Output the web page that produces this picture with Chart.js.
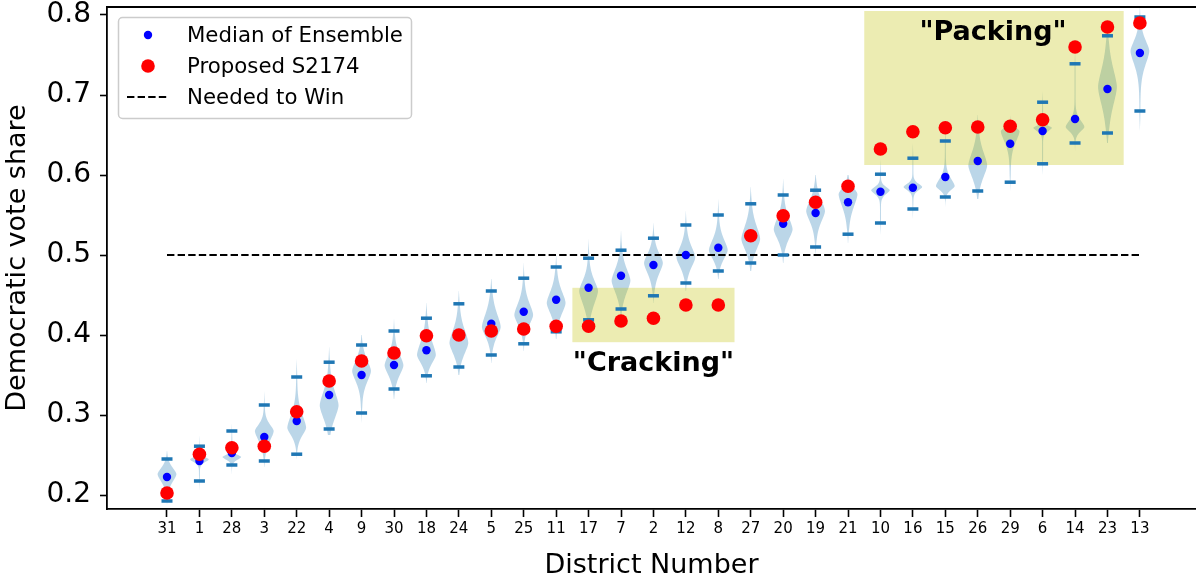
<!DOCTYPE html>
<html>
<head>
<meta charset="utf-8">
<script src="https://cdn.jsdelivr.net/npm/chart.js@4/dist/chart.umd.min.js"></script>
<style>
  body { margin: 0; background: #fff; }
  canvas { display: block; }
</style>
</head>
<body>
<canvas id="chart" width="1196" height="582"></canvas>
<script>
// Districts, sorted by ensemble median
const districts = ['31', '1', '28', '3', '22', '4', '9', '30', '18', '24', '5', '25', '11', '17', '7', '2',
    '12', '8', '27', '20', '19', '21', '10', '16', '15', '26', '29', '6', '14', '23', '13'];

const medians = [0.2225, 0.2425, 0.2525, 0.2725, 0.2925, 0.325, 0.35, 0.3625, 0.381, 0.401, 0.414, 0.429,
    0.444, 0.459, 0.474, 0.4875, 0.5, 0.509, 0.522, 0.539, 0.5525, 0.566, 0.579, 0.584, 0.5975, 0.6175,
    0.639, 0.655, 0.67, 0.7075, 0.7525];

const proposed = [0.2025, 0.251, 0.259, 0.261, 0.304, 0.3425, 0.3675, 0.3775, 0.399, 0.4, 0.405, 0.4075,
    0.411, 0.411, 0.4175, 0.421, 0.4375, 0.4375, 0.524, 0.549, 0.566, 0.586, 0.6325, 0.654, 0.659, 0.66,
    0.661, 0.669, 0.76, 0.785, 0.79];

// upper / lower bars of the ensemble
const ensembleMax = [0.245, 0.261, 0.28, 0.3125, 0.3475, 0.366, 0.3875, 0.405, 0.421, 0.439, 0.455, 0.471,
    0.485, 0.496, 0.506, 0.521, 0.5375, 0.55, 0.564, 0.575, 0.581, 0.584, 0.601, 0.621, 0.6425, 0.66,
    0.66, 0.691, 0.739, 0.774, 0.7975];
const ensembleMin = [0.1925, 0.2175, 0.2375, 0.2425, 0.251, 0.2825, 0.3025, 0.3325, 0.349, 0.36, 0.375,
    0.389, 0.404, 0.419, 0.4325, 0.449, 0.465, 0.48, 0.49, 0.5, 0.51, 0.526, 0.54, 0.5575, 0.5725, 0.58,
    0.591, 0.614, 0.64, 0.6525, 0.68];

// violin shape: widest value, spread below / above it, and tail ends
const violinPeak = [0.226, 0.2445, 0.2475, 0.28, 0.284, 0.312, 0.355, 0.362, 0.375, 0.39, 0.41, 0.425,
    0.44, 0.455, 0.468, 0.49, 0.497, 0.506, 0.52, 0.532, 0.555, 0.576, 0.581, 0.585, 0.586, 0.612, 0.655,
    0.659, 0.66, 0.71, 0.755];
const violinSpreadLow = [0.014, 0.005, 0.005, 0.018, 0.014, 0.024, 0.02, 0.018, 0.015, 0.02, 0.018, 0.018,
    0.02, 0.024, 0.022, 0.02, 0.018, 0.016, 0.02, 0.018, 0.02, 0.024, 0.007, 0.006, 0.007, 0.022, 0.02,
    0.006, 0.008, 0.035, 0.025];
const violinSpreadHigh = [0.012, 0.004, 0.004, 0.012, 0.024, 0.026, 0.02, 0.02, 0.025, 0.025, 0.025, 0.022,
    0.022, 0.02, 0.022, 0.018, 0.02, 0.02, 0.025, 0.022, 0.02, 0.012, 0.006, 0.006, 0.014, 0.025, 0.006,
    0.004, 0.012, 0.035, 0.02];
const violinLow = [0.188, 0.205, 0.225, 0.235, 0.245, 0.275, 0.29, 0.32, 0.34, 0.35, 0.365, 0.38, 0.395,
    0.41, 0.425, 0.44, 0.455, 0.47, 0.48, 0.49, 0.5, 0.515, 0.525, 0.545, 0.56, 0.57, 0.58, 0.6, 0.63,
    0.64, 0.655];
const violinHigh = [0.255, 0.275, 0.29, 0.33, 0.37, 0.385, 0.4, 0.42, 0.44, 0.455, 0.47, 0.49, 0.5, 0.52,
    0.53, 0.54, 0.555, 0.57, 0.585, 0.595, 0.6, 0.6, 0.62, 0.64, 0.66, 0.675, 0.675, 0.705, 0.755, 0.785, 0.81];

const neededToWin = 0.5;
const yTicks = [0.2, 0.3, 0.4, 0.5, 0.6, 0.7, 0.8];

// highlighted regions
const boxLabels = ['"Cracking"', '"Packing"'];
const boxFrom = [12.5, 21.5];
const boxTo = [17.5, 29.5];
const boxBottom = [0.391, 0.6125];
const boxTop = [0.459, 0.805];
const labelAtX = [15, 25.47];
const labelAtY = [0.364, 0.7775];

const FONT = "'DejaVu Sans', sans-serif";
const idx = districts.map((d, i) => i);

// Violins + highlight boxes under the points
const violinPlugin = {
    id: 'violins',
    beforeDatasetsDraw(chart) {
        const ctx = chart.ctx;
        const xs = chart.scales.x, ys = chart.scales.y;
        const unit = xs.getPixelForValue(1) - xs.getPixelForValue(0);
        const maxHalf = 0.29 * unit;
        ctx.save();
        ctx.fillStyle = 'rgba(31,119,180,0.3)';
        idx.forEach(i => {
            const cx = xs.getPixelForValue(i);
            const lo = violinLow[i], hi = violinHigh[i], pk = violinPeak[i];
            const n = 80;
            const pts = [];
            for (let k = 0; k <= n; k++) {
                const v = lo + (hi - lo) * k / n;
                const s = v < pk ? violinSpreadLow[i] : violinSpreadHigh[i];
                const g = Math.exp(-Math.pow(Math.abs(v - pk) / s, 1.6));
                const t = Math.min(1, Math.min(v - lo, hi - v) / 0.02);
                const w = maxHalf * (g * 0.95 + 0.05 * t);
                pts.push([ys.getPixelForValue(v), w]);
            }
            ctx.beginPath();
            pts.forEach(([y, w], k) => k ? ctx.lineTo(cx - w, y) : ctx.moveTo(cx - w, y));
            for (let k = pts.length - 1; k >= 0; k--) ctx.lineTo(cx + pts[k][1], pts[k][0]);
            ctx.closePath();
            ctx.fill();
        });

        ctx.fillStyle = 'rgba(191,191,0,0.3)';
        boxLabels.forEach((lab, b) => {
            const x0 = xs.getPixelForValue(boxFrom[b]), x1 = xs.getPixelForValue(boxTo[b]);
            const y0 = ys.getPixelForValue(boxTop[b]), y1 = ys.getPixelForValue(boxBottom[b]);
            ctx.fillRect(x0, y0, x1 - x0, y1 - y0);
        });
        ctx.restore();
    },
    afterDraw(chart) {
        const ctx = chart.ctx;
        const xs = chart.scales.x, ys = chart.scales.y;
        const area = chart.chartArea;
        ctx.save();
        // top spine
        ctx.strokeStyle = '#000';
        ctx.lineWidth = 1.8;
        ctx.beginPath();
        ctx.moveTo(area.left, area.top);
        ctx.lineTo(area.right, area.top);
        ctx.stroke();

        // box labels
        ctx.fillStyle = '#000';
        ctx.font = 'bold 27px ' + FONT;
        ctx.textAlign = 'center';
        ctx.textBaseline = 'middle';
        boxLabels.forEach((lab, b) => {
            ctx.fillText(lab, xs.getPixelForValue(labelAtX[b]), ys.getPixelForValue(labelAtY[b]));
        });

        // legend
        const lx = 118.5, ly = 17.5, lw = 293, lh = 101;
        ctx.fillStyle = 'rgba(255,255,255,0.8)';
        ctx.strokeStyle = '#cccccc';
        ctx.lineWidth = 1.5;
        ctx.beginPath();
        ctx.roundRect(lx, ly, lw, lh, 4);
        ctx.fill();
        ctx.stroke();

        ctx.font = '21.3px ' + FONT;
        ctx.textAlign = 'left';
        const rows = [35, 66, 97];
        chart.data.datasets.filter(d => d.inLegend).forEach((d, r) => {
            const y = rows[r];
            if (d.showLine) {
                ctx.strokeStyle = d.borderColor;
                ctx.lineWidth = d.borderWidth;
                ctx.setLineDash(d.borderDash);
                ctx.beginPath();
                ctx.moveTo(127, y);
                ctx.lineTo(169, y);
                ctx.stroke();
                ctx.setLineDash([]);
            } else {
                ctx.fillStyle = d.backgroundColor;
                ctx.beginPath();
                ctx.arc(148, y, d.pointRadius, 0, Math.PI * 2);
                ctx.fill();
            }
            ctx.fillStyle = '#000';
            ctx.fillText(d.label, 187, y + 1);
        });
        ctx.restore();
    }
};

const ctx = document.getElementById('chart').getContext('2d');
new Chart(ctx, {
    type: 'scatter',
    data: {
        datasets: [
            {
                label: 'Median of Ensemble',
                inLegend: true,
                data: idx.map(i => ({ x: i, y: medians[i] })),
                backgroundColor: 'blue',
                borderWidth: 0,
                pointRadius: 4.2,
                order: 1
            },
            {
                label: 'Proposed S2174',
                inLegend: true,
                data: idx.map(i => ({ x: i, y: proposed[i] })),
                backgroundColor: 'red',
                borderWidth: 0,
                pointRadius: 6.8,
                order: 0
            },
            {
                label: 'Needed to Win',
                inLegend: true,
                type: 'line',
                showLine: true,
                data: [{ x: 0, y: neededToWin }, { x: districts.length - 1, y: neededToWin }],
                borderColor: '#000',
                borderWidth: 2,
                borderDash: [7.4, 3.2],
                pointRadius: 0,
                order: 3
            },
            {
                label: 'ensemble max',
                data: idx.map(i => ({ x: i, y: ensembleMax[i] })),
                pointStyle: 'line',
                pointRadius: 5.5,
                borderColor: '#1f77b4',
                borderWidth: 3.5,
                order: 2
            },
            {
                label: 'ensemble min',
                data: idx.map(i => ({ x: i, y: ensembleMin[i] })),
                pointStyle: 'line',
                pointRadius: 5.5,
                borderColor: '#1f77b4',
                borderWidth: 3.5,
                order: 2
            }
        ]
    },
    options: {
        responsive: false,
        animation: false,
        layout: { autoPadding: false, padding: { top: 7, right: 0, left: 0, bottom: 0 } },
        plugins: {
            legend: { display: false },
            tooltip: { enabled: false }
        },
        scales: {
            x: {
                type: 'linear',
                min: -1.85,
                max: 31.73,
                afterFit: s => {
                    s.height = 73;
                    s.paddingLeft = 0;
                    s.paddingRight = 0;
                },
                afterBuildTicks: s => { s.ticks = idx.map(v => ({ value: v })); },
                grid: {
                    drawOnChartArea: false,
                    drawTicks: true,
                    tickLength: 8,
                    tickWidth: 1.6,
                    tickColor: '#000'
                },
                border: { display: true, color: '#000', width: 1.8 },
                ticks: {
                    autoSkip: false,
                    maxRotation: 0,
                    padding: 3,
                    color: '#000',
                    font: { family: FONT, size: 15 },
                    callback: v => districts[v]
                },
                title: {
                    display: true,
                    text: 'District Number',
                    color: '#000',
                    font: { family: FONT, size: 27 },
                    padding: { top: 0, bottom: 0 }
                }
            },
            y: {
                min: 0.1825,
                max: 0.81,
                afterFit: s => {
                    s.width = 107;
                    s.paddingTop = 0;
                    s.paddingBottom = 0;
                },
                afterBuildTicks: s => { s.ticks = yTicks.map(v => ({ value: v })); },
                grid: {
                    drawOnChartArea: false,
                    drawTicks: true,
                    tickLength: 7,
                    tickWidth: 1.6,
                    tickColor: '#000'
                },
                border: { display: true, color: '#000', width: 1.8 },
                ticks: {
                    padding: 9,
                    color: '#000',
                    font: { family: FONT, size: 28 },
                    callback: v => v.toFixed(1)
                },
                title: {
                    display: true,
                    text: 'Democratic vote share',
                    color: '#000',
                    font: { family: FONT, size: 27 },
                    padding: { top: 2, bottom: 0 }
                }
            }
        }
    },
    plugins: [violinPlugin]
});
</script>
</body>
</html>
